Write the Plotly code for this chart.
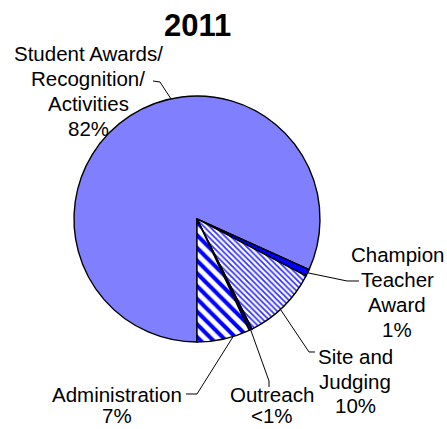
import math
import plotly.graph_objects as go

# ---- data ----
categories = [["Student Awards/", "Recognition/", "Activities"],
              ["Champion", "Teacher", "Award"],
              ["Site and", "Judging"],
              ["Outreach"],
              ["Administration"]]
values = [82.0, 0.9, 10.0, 0.4, 7.0]
pct_labels = ["82%", "1%", "10%", "<1%", "7%"]
title_text = "2011"

# ---- style / layout ----
W, H = 447, 429
CX, CY, R = 197, 219, 123            # pie centre/radius in pixels
ROTATION = 180
colors = ["#8080FF", "#0000FF", "#FFFFFF", "#000080", "#FFFFFF"]
patterns = dict(
    shape=["", "", "\\", "", "\\"],
    fgcolor=["#8080FF", "#0000FF", "#3333FF", "#000080", "#0000FF"],
    bgcolor=["#8080FF", "#0000FF", "#FFFFFF", "#000080", "#FFFFFF"],
    size=[8, 8, 4, 8, 9],
    solidity=[0.5, 0.5, 0.45, 0.5, 0.45],
    fillmode="replace",
)
FONT = "Liberation Sans, Arial, sans-serif"
FS = 20.5
LINE_H = 24.8

# label block centres (px), line spacing and leader-line knee/end points (px)
label_pos = [(88, 91), (397, 292), (355, 381), (272, 405), (117, 405)]
line_h = [LINE_H, LINE_H, LINE_H, 20.5, 20.5]
anchor_frac = [0.57, 0.5, 0.55, 0.5, 0.32]
leader_pts = [
    [(160, 82), (153, 81)],
    [(347, 281), (359, 281)],
    [(309, 352), (315, 352)],
    [(269, 381), (269, 387)],
    [(197, 394), (186, 394)],
]


def px2paper(x, y):
    return x / W, 1 - y / H


fig = go.Figure(go.Pie(
    labels=["/".join(c) for c in categories],
    values=values,
    sort=False,
    direction="clockwise",
    rotation=ROTATION,
    textinfo="none",
    hoverinfo="label+percent",
    marker=dict(colors=colors, line=dict(color="black", width=1.4), pattern=patterns),
    domain=dict(x=[px2paper(CX - R, 0)[0], px2paper(CX + R, 0)[0]],
                y=[px2paper(0, CY + R)[1], px2paper(0, CY - R)[1]]),
    showlegend=False,
))

total = sum(values)
start = ROTATION
shapes = []
annotations = []
for i, v in enumerate(values):
    span = v / total * 360
    ang = math.radians(start + span * anchor_frac[i])
    start += span
    ax = CX + R * math.sin(ang)
    ay = CY - R * math.cos(ang)
    pts = [(ax, ay)] + leader_pts[i]
    path = "M " + " L ".join("{:.5f},{:.5f}".format(*px2paper(x, y)) for x, y in pts)
    shapes.append(dict(type="path", xref="paper", yref="paper", path=path,
                       line=dict(color="black", width=1)))
    lines = categories[i] + [pct_labels[i]]
    n = len(lines)
    cx, cy = label_pos[i]
    for k, t in enumerate(lines):
        ly = cy + (k - (n - 1) / 2) * line_h[i]
        px, py = px2paper(cx, ly)
        annotations.append(dict(
            x=px, y=py, xref="paper", yref="paper", xanchor="center", yanchor="middle",
            text=t, showarrow=False, borderpad=0,
            font=dict(family=FONT, size=FS, color="black")))

tx, ty = px2paper(197, 26)
annotations.append(dict(x=tx, y=ty, xref="paper", yref="paper", xanchor="center",
                        yanchor="middle", text=f"<b>{title_text}</b>", showarrow=False,
                        font=dict(family=FONT, size=31, color="black")))

fig.update_layout(
    width=W, height=H,
    margin=dict(l=0, r=0, t=0, b=0),
    paper_bgcolor="white", plot_bgcolor="white",
    shapes=shapes, annotations=annotations,
)

fig.write_html(
    "out.html",
    config={"displayModeBar": False},
    post_script="document.body.style.margin='0';document.body.style.overflow='hidden';",
)
